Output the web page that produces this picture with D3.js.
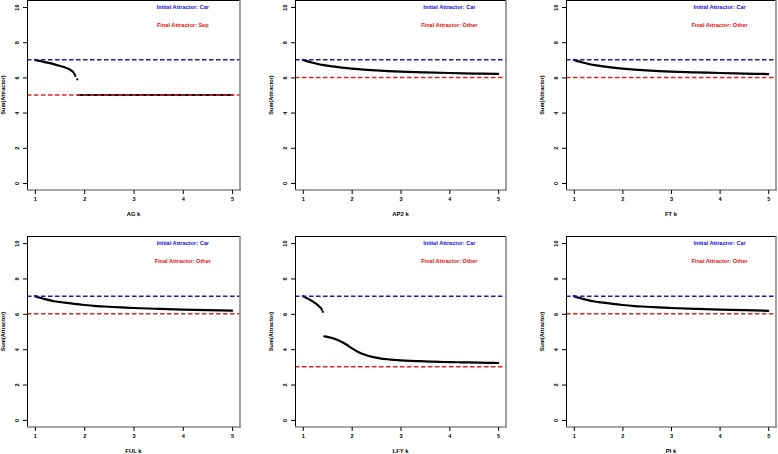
<!DOCTYPE html>
<html><head><meta charset="utf-8">
<script src="https://cdn.jsdelivr.net/npm/d3@7"></script>
<style>body{margin:0;background:#fff}svg{display:block}text{font-family:"Liberation Sans",Arial,sans-serif;font-weight:bold}</style>
</head><body><svg id="c" width="778" height="454"></svg>
<script>
// ---- data ----
const genes = ["AG", "AP2", "FT", "FUL", "LFY", "PI"];
const initialAttractor = ["Car", "Car", "Car", "Car", "Car", "Car"];
const finalAttractor = ["Sep", "Other", "Other", "Other", "Other", "Other"];
const initialLevel = [7, 7, 7, 7, 7, 7];
const finalLevel = [5, 6, 6, 6, 3, 6];
const xTicks = [1, 2, 3, 4, 5];
const yTicks = [0, 2, 4, 6, 8, 10];

const kGrid = [1, 1.1, 1.2, 1.3, 1.4, 1.5, 1.6, 1.8, 2, 2.25, 2.5, 2.75, 3, 3.5, 4, 4.5, 5];
const AP2vals = [7, 6.91, 6.83, 6.77, 6.71, 6.67, 6.63, 6.56, 6.5, 6.44, 6.4, 6.36, 6.33, 6.29, 6.25, 6.22, 6.2];
const FTvals  = [7, 6.91, 6.83, 6.77, 6.71, 6.67, 6.63, 6.56, 6.5, 6.44, 6.4, 6.36, 6.33, 6.29, 6.25, 6.22, 6.19];
const FULvals = [7, 6.91, 6.83, 6.77, 6.71, 6.67, 6.63, 6.56, 6.5, 6.44, 6.4, 6.36, 6.33, 6.28, 6.24, 6.21, 6.18];
const PIvals  = [7, 6.91, 6.83, 6.77, 6.71, 6.67, 6.63, 6.56, 6.5, 6.44, 6.4, 6.36, 6.33, 6.28, 6.24, 6.21, 6.17];

const AGk1 = [1, 1.1, 1.2, 1.3, 1.4, 1.5, 1.6, 1.7, 1.75, 1.78];
const AGv1 = [7, 6.93, 6.87, 6.81, 6.74, 6.66, 6.58, 6.46, 6.37, 6.29];
const AGdotK = [1.8, 1.81, 1.82, 1.86];
const AGdotV = [6.2, 6.14, 6.08, 5.89];
const AGk2 = [1.88, 2, 3, 4, 5];
const AGv2 = [5, 5, 5, 5, 5];

const LFYk1 = [1, 1.1, 1.2, 1.3, 1.35];
const LFYv1 = [7, 6.86, 6.70, 6.50, 6.38];
const LFYdotK = [1.37, 1.38, 1.39, 1.41];
const LFYdotV = [6.33, 6.28, 6.22, 6.11];
const LFYk2 = [1.44, 1.5, 1.6, 1.7, 1.8, 1.9, 2, 2.1, 2.2, 2.3, 2.4, 2.5, 2.6, 2.7, 2.8, 2.9, 3, 3.2, 3.4, 3.6, 3.8, 4, 4.2, 4.4, 4.6, 4.8, 5];
const LFYv2 = [4.72, 4.70, 4.63, 4.53, 4.41, 4.25, 4.06, 3.89, 3.76, 3.66, 3.58, 3.52, 3.47, 3.44, 3.41, 3.39, 3.37, 3.34, 3.32, 3.30, 3.28, 3.27, 3.26, 3.25, 3.24, 3.23, 3.22];

const zip = (ks, vs) => ks.map((k, i) => [k, vs[i]]);
const segments = {
  AG:  {lines: [zip(AGk1, AGv1), zip(AGk2, AGv2)], dots: zip(AGdotK, AGdotV)},
  AP2: {lines: [zip(kGrid, AP2vals)], dots: []},
  FT:  {lines: [zip(kGrid, FTvals)], dots: []},
  FUL: {lines: [zip(kGrid, FULvals)], dots: []},
  LFY: {lines: [zip(LFYk1, LFYv1), zip(LFYk2, LFYv2)], dots: zip(LFYdotK, LFYdotV)},
  PI:  {lines: [zip(kGrid, PIvals)], dots: []}
};

// ---- layout ----
const colBox = [[27, 240], [295, 506], [566, 776]];
const rowBox = [[0, 190], [236, 427]];
const svg = d3.select("#c");
const FS = 5.6;

genes.forEach((g, i) => {
  const col = i % 3, row = Math.floor(i / 3);
  const [x0, x1] = colBox[col], [y0, y1] = rowBox[row];
  const x = d3.scaleLinear().domain([0.84, 5.16]).range([x0, x1]);
  const y = d3.scaleLinear().domain([-0.4, 10.4]).range([y1, y0]);
  const p = svg.append("g");

  const line = d3.line().x(d => x(d[0])).y(d => y(d[1])).curve(d3.curveMonotoneX);
  segments[g].lines.forEach(seg => {
    p.append("path").attr("d", line(seg)).attr("fill", "none")
      .attr("stroke", "#000").attr("stroke-width", 2.2).attr("stroke-linecap", "round");
  });
  p.selectAll(".dot").data(segments[g].dots).join("circle")
    .attr("cx", d => x(d[0])).attr("cy", d => y(d[1])).attr("r", 1.1).attr("fill", "#000");

  // reference lines
  p.append("line").attr("x1", x0).attr("x2", x1)
    .attr("y1", y(initialLevel[i])).attr("y2", y(initialLevel[i]))
    .attr("stroke", "#1c1caa").attr("stroke-width", 1.5).attr("stroke-dasharray", "4.5,2.5");
  p.append("line").attr("x1", x0).attr("x2", x1)
    .attr("y1", y(finalLevel[i])).attr("y2", y(finalLevel[i]))
    .attr("stroke", "#e02424").attr("stroke-width", 1.5).attr("stroke-dasharray", "4.5,2.5");

  // annotation text
  p.append("text").attr("x", x(4)).attr("y", y(10)).attr("text-anchor", "middle")
    .attr("dominant-baseline", "central").attr("font-size", FS).attr("fill", "#1010e0")
    .text("Initial Attractor: " + initialAttractor[i]);
  p.append("text").attr("x", x(4)).attr("y", y(9)).attr("text-anchor", "middle")
    .attr("dominant-baseline", "central").attr("font-size", FS).attr("fill", "#e01010")
    .text("Final Attractor: " + finalAttractor[i]);

  // box
  p.append("line").attr("x1", x0 + 0.5).attr("x2", x0 + 0.5).attr("y1", y0).attr("y2", y1).attr("stroke", "#000").attr("stroke-width", 1);
  p.append("line").attr("x1", x0).attr("x2", x1).attr("y1", y0 + 0.5).attr("y2", y0 + 0.5).attr("stroke", "#000").attr("stroke-width", 1);
  p.append("line").attr("x1", x1).attr("x2", x1).attr("y1", y0).attr("y2", y1 + 0.7).attr("stroke", "#888").attr("stroke-width", 1.6);
  p.append("line").attr("x1", x0).attr("x2", x1 + 0.7).attr("y1", y1).attr("y2", y1).attr("stroke", "#888").attr("stroke-width", 1.6);

  // x axis
  const xa = p.append("g").attr("transform", `translate(0,${y1})`)
    .call(d3.axisBottom(x).tickValues(xTicks).tickSize(4).tickPadding(3).tickFormat(d3.format("d")));
  xa.select(".domain").remove();
  xa.selectAll("line").attr("stroke", "#000");
  xa.selectAll("text").attr("font-size", FS).attr("font-family", null).attr("fill", "#000");

  // y axis
  const ya = p.append("g").attr("transform", `translate(${x0},0)`)
    .call(d3.axisLeft(y).tickValues(yTicks).tickSize(4).tickFormat(d3.format("d")));
  ya.select(".domain").remove();
  ya.selectAll("line").attr("stroke", "#000");
  ya.selectAll("text").remove();
  ya.selectAll(".tick").append("text")
    .attr("transform", "translate(-10,0) rotate(-90)")
    .attr("text-anchor", "middle").attr("dominant-baseline", "central")
    .attr("font-size", FS).attr("fill", "#000").text(d => d);

  // axis titles
  p.append("text").attr("x", x(3)).attr("y", y1 + 24).attr("text-anchor", "middle")
    .attr("dominant-baseline", "central").attr("font-size", FS + 0.3).text(g + " k");
  p.append("text").attr("transform", `translate(${x0 - 24},${(y0 + y1) / 2}) rotate(-90)`)
    .attr("text-anchor", "middle").attr("dominant-baseline", "central")
    .attr("font-size", FS).text("Sum(Attractor)");
});
</script></body></html>
